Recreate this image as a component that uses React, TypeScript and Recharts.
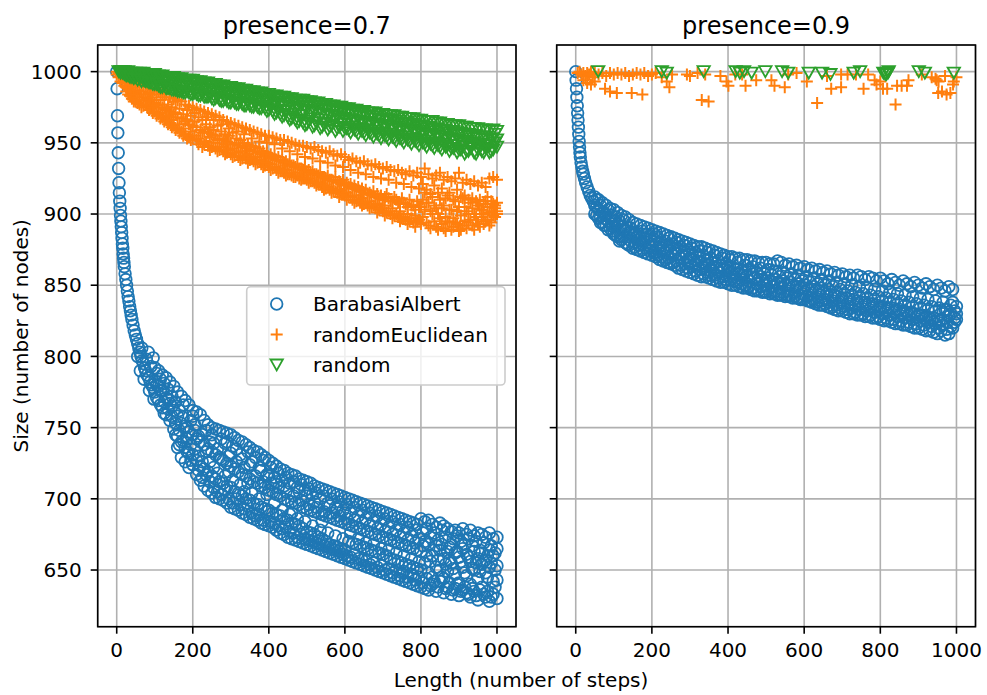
import React from 'react'
import { ScatterChart, Scatter, XAxis, YAxis, CartesianGrid } from 'recharts'

const BLUE = '#1f77b4'
const ORANGE = '#ff7f0e'
const GREEN = '#2ca02c'
const FONT = '"DejaVu Sans", sans-serif'

const xTicks = [0, 200, 400, 600, 800, 1000]
const yTicks = [650, 700, 750, 800, 850, 900, 950, 1000]
const panelTitles = ['presence=0.7', 'presence=0.9']
const seriesNames = ['BarabasiAlbert', 'randomEuclidean', 'random']

// presence=0.7, BarabasiAlbert: steep start, then a wide band
const baLowHead: [number, number][] = [
  [0, 1000], [1, 988], [2, 969], [3, 957], [4, 943], [5, 932], [6, 922], [7, 915], [8, 909], [9, 904],
  [10, 899], [11, 895], [12, 891], [13, 887], [14, 883], [15, 879], [16, 876], [17, 872], [18, 869], [19, 866],
  [20, 863], [22, 858], [24, 854], [26, 850], [28, 846], [30, 842], [32, 839], [34, 835], [36, 832], [38, 829],
  [40, 826], [43, 822], [46, 818], [49, 815], [52, 812], [55, 809], [58, 806], [61, 803], [64, 800], [67, 797],
  [70, 795], [73, 792], [76, 790], [80, 787], [84, 785], [88, 782], [92, 780], [96, 778],
  [55, 800], [62, 790], [66, 806], [72, 784], [78, 798], [83, 803], [86, 776], [90, 793], [96, 799], [98, 770]
]
const baLowBand: [number, number[]][] = [
  [100, [792, 783, 775]], [110, [790, 779, 769]], [120, [787, 776, 764]], [130, [785, 771, 759]],
  [140, [782, 767, 755]], [150, [779, 762, 749]], [160, [775, 758, 744, 736]], [170, [772, 753, 740, 729]],
  [180, [769, 751, 736, 726]], [190, [766, 747, 732, 722]], [200, [762, 745, 731, 724, 758]],
  [210, [761, 742, 727, 717]], [220, [759, 740, 723, 713]], [230, [755, 738, 721, 709]], [240, [752, 735, 719, 706]],
  [250, [750, 733, 716, 704, 745]], [260, [749, 731, 714, 701]], [270, [748, 729, 712, 700]], [280, [747, 727, 711, 699]],
  [290, [746, 725, 709, 697, 740]], [300, [745, 723, 708, 694, 732]], [310, [743, 721, 705, 693]],
  [320, [741, 719, 704, 692]], [330, [740, 717, 702, 690, 728]], [340, [738, 716, 700, 689]],
  [350, [736, 714, 699, 687, 724]], [360, [734, 712, 697, 686]], [370, [733, 711, 696, 685]],
  [380, [731, 709, 694, 683, 720]], [390, [729, 708, 693, 682]], [400, [727, 706, 692, 681, 716]],
  [410, [725, 705, 690, 680]], [420, [723, 703, 689, 678, 712]], [430, [721, 702, 688, 676]],
  [440, [720, 700, 686, 675, 709]], [450, [718, 699, 685, 673]], [460, [717, 698, 683, 672, 690]],
  [470, [716, 697, 682, 671]], [480, [714, 696, 681, 670, 705]], [490, [713, 694, 679, 669]],
  [500, [712, 693, 677, 668, 702]], [510, [711, 692, 676, 667]], [520, [709, 691, 675, 666, 698]],
  [530, [708, 690, 673, 665]], [540, [707, 689, 672, 664, 684]], [550, [706, 688, 670, 663]],
  [560, [705, 687, 668, 662, 695]], [570, [704, 686, 667, 661]], [580, [703, 685, 666, 660, 693]],
  [590, [702, 684, 665, 659]], [600, [701, 683, 664, 658, 690]], [610, [700, 682, 670, 657]],
  [620, [699, 681, 669, 656]], [630, [698, 680, 668, 655]], [640, [697, 679, 667, 654]],
  [650, [696, 678, 666, 653]], [660, [695, 677, 665, 652]], [670, [694, 676, 664, 651]],
  [680, [693, 675, 663, 650]], [690, [692, 674, 662, 649]], [700, [691, 673, 661, 648]],
  [710, [690, 672, 660, 647]], [720, [689, 671, 658, 646]], [730, [688, 670, 657, 645]],
  [740, [687, 669, 656, 644]], [750, [686, 668, 655, 648, 643]], [760, [685, 667, 654, 642]],
  [770, [684, 666, 653, 641]], [780, [683, 665, 652, 646, 640]], [790, [682, 664, 651, 639]],
  [800, [686, 663, 650, 638]], [810, [684, 670, 655, 637]], [820, [685, 668, 648, 636]],
  [830, [682, 660, 645, 640]], [840, [680, 667, 652, 635]], [850, [683, 664, 650, 642]],
  [860, [681, 658, 644, 634]], [870, [679, 663, 649, 638]], [880, [677, 668, 655, 633]],
  [890, [678, 662, 647, 637]], [900, [676, 659, 641, 632]], [910, [679, 665, 652, 636]],
  [920, [675, 661, 646, 634]], [930, [678, 656, 640, 631]], [940, [674, 663, 650, 635]],
  [950, [676, 658, 644, 629]], [960, [675, 662, 654, 638]], [970, [673, 657, 648, 631]],
  [980, [676, 664, 652, 628]], [990, [672, 660, 642, 633]], [1000, [673, 665, 653, 643, 630]]
]
const baLowFill: [number, number[]][] = [
  [105, [788, 771, 780]], [115, [776, 784, 766]], [125, [781, 768, 760]], [135, [763, 777, 770]],
  [145, [772, 758, 765]], [155, [753, 768, 745]], [165, [762, 748, 738]], [175, [741, 757, 766]],
  [185, [750, 733, 742]], [195, [738, 755, 727]], [205, [748, 735, 752]], [215, [730, 720, 744]],
  [225, [745, 726, 715]], [235, [717, 733, 748]], [245, [740, 712, 726]], [255, [722, 708, 739]],
  [265, [735, 718, 705]], [275, [703, 728, 742]], [285, [716, 739, 706]], [295, [730, 700, 719]],
  [305, [713, 737, 697]], [315, [726, 700, 735]], [325, [710, 696, 731]], [335, [722, 705, 693]],
  [345, [733, 695, 711]], [355, [704, 726, 690]], [365, [716, 688, 729]], [375, [700, 722, 689]],
  [385, [712, 727, 685]], [395, [691, 717, 703]], [405, [711, 684, 722]], [415, [697, 715, 683]],
  [425, [708, 681, 718]], [435, [692, 713, 679]], [445, [705, 680, 715]], [455, [689, 711, 677]],
  [465, [702, 676, 712]], [475, [686, 708, 673]], [485, [699, 675, 710]], [495, [684, 706, 672]],
  [505, [696, 707, 671]], [515, [681, 703, 670]], [525, [694, 669, 704]], [535, [678, 700, 668]],
  [545, [691, 702, 667]], [555, [676, 697, 666]], [565, [690, 665, 700]], [575, [674, 694, 664]],
  [585, [688, 698, 663]], [595, [672, 692, 661]], [605, [686, 696, 660]], [615, [676, 690, 659]],
  [625, [685, 694, 661]], [635, [672, 688, 658]], [645, [683, 692, 657]], [655, [669, 686, 656]],
  [665, [681, 690, 654]], [675, [668, 684, 655]], [685, [679, 688, 652]], [695, [665, 682, 653]],
  [705, [677, 686, 650]], [715, [664, 680, 651]], [725, [675, 684, 648]], [735, [662, 678, 650]],
  [745, [673, 682, 646]], [755, [660, 676, 649]], [765, [671, 680, 645]], [775, [658, 674, 647]],
  [785, [669, 678, 643]], [795, [656, 672, 645]], [805, [667, 676, 641]], [815, [660, 679, 644]],
  [825, [673, 656, 639]], [835, [664, 676, 642]], [845, [657, 671, 638]], [855, [668, 678, 645]],
  [865, [654, 673, 637]], [875, [666, 657, 641]], [885, [672, 651, 636]], [895, [663, 674, 640]],
  [905, [656, 670, 635]], [915, [668, 648, 638]], [925, [659, 672, 633]], [935, [667, 651, 637]],
  [945, [655, 670, 632]], [955, [664, 649, 636]], [965, [669, 656, 633]], [975, [660, 645, 635]],
  [985, [667, 655, 631]], [995, [662, 650, 638]]
]

// presence=0.7, randomEuclidean
const reLowBand: [number, number[]][] = [
  [0, [1000, 998]], [10, [997, 993]], [20, [995, 990]], [30, [994, 988, 984]], [40, [993, 986, 981]],
  [50, [992, 985, 979]], [60, [991, 984, 977]], [70, [990, 982, 976]], [80, [989, 981, 975]],
  [90, [988, 980, 974]], [100, [987, 978, 972]], [110, [986, 977, 970]], [120, [985, 975, 968]],
  [130, [984, 973, 966]], [140, [982, 972, 964]], [150, [981, 970, 962]], [160, [980, 968, 960]],
  [170, [979, 967, 958]], [180, [977, 965, 956]], [190, [976, 963, 954]], [200, [975, 962, 953]],
  [210, [974, 961, 952]], [220, [973, 959, 951]], [230, [972, 958, 949]], [240, [971, 957, 948]],
  [250, [970, 956, 947]], [260, [969, 955, 946]], [270, [968, 953, 945]], [280, [966, 952, 944]],
  [290, [965, 951, 943]], [300, [964, 950, 942]], [310, [963, 949, 941]], [320, [962, 948, 940]],
  [330, [961, 947, 939]], [340, [960, 946, 939]], [350, [959, 945, 938]], [360, [958, 944, 937]],
  [370, [957, 943, 936]], [380, [956, 942, 935]], [390, [955, 941, 934]], [400, [955, 940, 933]],
  [410, [954, 939, 932]], [420, [953, 938, 931]], [430, [952, 937, 930]], [440, [952, 936, 929]],
  [450, [951, 935, 928]], [460, [950, 934, 927]], [470, [949, 933, 926]], [480, [948, 932, 925]],
  [490, [948, 931, 925]], [500, [947, 930, 924]], [510, [946, 929, 923]], [520, [947, 928, 922]],
  [530, [945, 927, 921]], [540, [944, 926, 919]], [550, [943, 925, 918]], [560, [944, 924, 917]],
  [570, [942, 923, 916]], [580, [941, 922, 915]], [590, [942, 921, 914]], [600, [940, 920, 913]],
  [610, [938, 919, 912]], [620, [939, 918, 910]], [630, [937, 917, 909]], [640, [936, 916, 908]],
  [650, [937, 915, 907]], [660, [935, 914, 906]], [670, [934, 913, 905]], [680, [935, 912, 904]],
  [690, [933, 911, 903]], [700, [932, 910, 902]], [710, [933, 914, 901]], [720, [931, 909, 900]],
  [730, [930, 912, 899]], [740, [931, 908, 898]], [750, [929, 911, 897]], [760, [928, 907, 896]],
  [770, [930, 910, 895]], [780, [927, 906, 894]], [790, [929, 909, 895]], [800, [926, 905, 893]],
  [810, [932, 915, 903]], [820, [928, 908, 892]], [830, [925, 912, 900]], [840, [927, 904, 891]],
  [850, [929, 910, 897]], [860, [924, 906, 890]], [870, [926, 913, 895]], [880, [923, 903, 889]],
  [890, [925, 909, 894]], [900, [929, 905, 888]], [910, [922, 911, 892]], [920, [924, 902, 890]],
  [930, [921, 908, 896]], [940, [923, 900, 889]], [950, [920, 906, 893]], [960, [922, 903, 898]],
  [970, [919, 909, 895]], [980, [925, 901, 892]], [990, [926, 907, 899]], [1000, [924, 908, 902, 900]]
]
const reLowFill: [number, number[]][] = [
  [5, [996, 999]], [15, [992, 996]], [25, [989, 993, 986]], [35, [991, 983]], [45, [984, 989, 979]],
  [55, [987, 978, 982]], [65, [980, 986, 975]], [75, [984, 977]], [85, [979, 985, 973]], [95, [982, 975, 971]],
  [105, [976, 984, 969]], [115, [980, 971, 967]], [125, [974, 982, 965]], [135, [969, 977, 963]],
  [145, [975, 966, 961]], [155, [971, 979, 959]], [165, [963, 974, 957]], [175, [970, 960, 955]],
  [185, [966, 973, 953]], [195, [958, 969, 952]], [205, [965, 955, 971]], [215, [968, 953, 949]],
  [225, [957, 966, 947]], [235, [963, 951, 968]], [245, [954, 961, 945]], [255, [959, 950, 966]],
  [265, [952, 962, 944]], [275, [958, 947, 963]], [285, [949, 956, 942]], [295, [955, 945, 960]],
  [305, [946, 957, 940]], [315, [953, 943, 958]], [325, [944, 952, 938]], [335, [950, 941, 956]],
  [345, [942, 949, 936]], [355, [948, 939, 953]], [365, [940, 947, 935]], [375, [946, 938, 951]],
  [385, [937, 944, 933]], [395, [943, 936, 950]], [405, [935, 942, 931]], [415, [941, 933, 949]],
  [425, [932, 940, 929]], [435, [938, 930, 946]], [445, [931, 937, 927]], [455, [936, 928, 944]],
  [465, [929, 934, 926]], [475, [935, 927, 942]], [485, [927, 932, 924]], [495, [933, 925, 940]],
  [505, [925, 931, 922]], [515, [930, 923, 939]], [525, [922, 928, 920]], [535, [929, 921, 937]],
  [545, [920, 926, 917]], [555, [927, 919, 936]], [565, [918, 924, 915]], [575, [926, 916, 934]],
  [585, [917, 923, 912]], [595, [924, 914, 933]], [605, [915, 922, 910]], [615, [921, 912, 931]],
  [625, [913, 920, 908]], [635, [919, 910, 929]], [645, [911, 918, 906]], [655, [917, 908, 928]],
  [665, [909, 915, 904]], [675, [916, 906, 926]], [685, [907, 914, 901]], [695, [913, 904, 925]],
  [705, [906, 912, 899]], [715, [911, 902, 924]], [725, [904, 909, 897]], [735, [910, 900, 922]],
  [745, [902, 907, 895]], [755, [908, 898, 921]], [765, [900, 905, 893]], [775, [906, 897, 919]],
  [785, [899, 903, 891]], [795, [905, 896, 918]], [805, [898, 910, 921]], [815, [908, 894, 917]],
  [825, [902, 914, 890]], [835, [906, 895, 920]], [845, [900, 915, 889]], [855, [904, 893, 918]],
  [865, [898, 911, 888]], [875, [903, 894, 915]], [885, [897, 910, 891]], [895, [902, 893, 917]],
  [905, [899, 912, 889]], [915, [905, 895, 913]], [925, [900, 910, 894]], [935, [904, 892, 911]],
  [945, [898, 909, 896]], [955, [903, 891, 910]], [965, [900, 907, 893]], [975, [905, 896, 912]],
  [985, [902, 894, 909]], [995, [906, 898, 904]]
]

// presence=0.7, random
const rLowBand: [number, number[]][] = [
  [10, [1000, 999]], [20, [1000, 998]], [30, [1000, 998, 997]], [40, [999, 998, 996]], [50, [999, 997, 996]],
  [60, [999, 997, 995]], [70, [999, 996, 994]], [80, [998, 996, 993]], [90, [998, 995, 992]],
  [100, [998, 995, 991]], [110, [997, 994, 990]], [120, [997, 993, 989]], [130, [996, 993, 988]],
  [140, [996, 992, 988]], [150, [996, 991, 987]], [160, [995, 991, 986]], [170, [995, 990, 986]],
  [180, [994, 990, 985]], [190, [994, 989, 985]], [200, [994, 989, 984]], [210, [993, 988, 984]],
  [220, [993, 988, 983]], [230, [992, 987, 982]], [240, [992, 987, 982]], [250, [991, 986, 981]],
  [260, [991, 986, 981]], [270, [990, 985, 980]], [280, [990, 985, 979]], [290, [989, 984, 979]],
  [300, [989, 984, 978]], [310, [988, 983, 978]], [320, [988, 983, 977]], [330, [987, 982, 977]],
  [340, [987, 982, 976]], [350, [986, 981, 976]], [360, [986, 981, 975]], [370, [985, 980, 975]],
  [380, [985, 980, 974]], [390, [984, 979, 974]], [400, [984, 979, 973]], [410, [983, 978, 972]],
  [420, [983, 977, 971]], [430, [982, 977, 970]], [440, [982, 976, 969]], [450, [981, 976, 968]],
  [460, [981, 975, 967]], [470, [980, 974, 966]], [480, [980, 974, 965]], [490, [980, 973, 964]],
  [500, [979, 973, 963]], [510, [979, 972, 967]], [520, [978, 972, 962]], [530, [978, 971, 966]],
  [540, [977, 970, 961]], [550, [977, 970, 964]], [560, [976, 969, 961]], [570, [976, 969, 965]],
  [580, [975, 968, 960]], [590, [975, 967, 963]], [600, [974, 967, 960]], [610, [974, 966, 959]],
  [620, [973, 966, 961]], [630, [973, 965, 958]], [640, [972, 965, 960]], [650, [972, 964, 957]],
  [660, [971, 964, 959]], [670, [971, 963, 956]], [680, [971, 963, 958]], [690, [970, 962, 955]],
  [700, [970, 962, 957]], [710, [969, 961, 954]], [720, [969, 961, 956]], [730, [969, 960, 953]],
  [740, [968, 960, 955]], [750, [968, 959, 952]], [760, [967, 959, 954]], [770, [967, 958, 951]],
  [780, [967, 958, 953]], [790, [966, 957, 950]], [800, [966, 957, 952]], [810, [965, 956, 949]],
  [820, [965, 956, 951]], [830, [965, 955, 948]], [840, [964, 955, 950]], [850, [964, 954, 947]],
  [860, [963, 954, 949]], [870, [963, 953, 948]], [880, [962, 953, 946]], [890, [962, 952, 948]],
  [900, [962, 952, 945]], [910, [961, 951, 947]], [920, [961, 951, 944]], [930, [960, 950, 946]],
  [940, [960, 950, 943]], [950, [960, 949, 945]], [960, [959, 949, 944]], [970, [959, 948, 946]],
  [980, [958, 948, 943]], [990, [959, 950, 945]], [1000, [958, 952, 947]]
]
const rLowFill: [number, number[]][] = [
  [5, [1000]], [15, [1000, 999]], [25, [999, 997]], [35, [999, 996]], [45, [998, 995]], [55, [998, 994]],
  [65, [997, 993]], [75, [997, 993]], [85, [996, 992]], [95, [997, 991]], [105, [996, 991]], [115, [995, 989]],
  [125, [996, 990]], [135, [994, 988]], [145, [995, 987]], [155, [993, 987]], [165, [994, 986]], [175, [992, 985]],
  [185, [993, 986]], [195, [991, 984]], [205, [992, 985]], [215, [990, 983]], [225, [991, 984]], [235, [989, 982]],
  [245, [990, 983]], [255, [988, 980]], [265, [989, 982]], [275, [987, 979]], [285, [988, 981]], [295, [986, 978]],
  [305, [987, 980]], [315, [985, 977]], [325, [986, 979]], [335, [984, 976]], [345, [985, 978]], [355, [983, 975]],
  [365, [984, 977]], [375, [982, 974]], [385, [983, 976]], [395, [981, 972]], [405, [982, 975]], [415, [980, 970]],
  [425, [981, 973]], [435, [979, 968]], [445, [980, 972]], [455, [978, 966]], [465, [979, 970]], [475, [977, 964]],
  [485, [978, 969]], [495, [976, 962]], [505, [977, 965]], [515, [975, 961]], [525, [976, 964]], [535, [974, 960]],
  [545, [975, 963]], [555, [973, 959]], [565, [974, 962]], [575, [972, 958]], [585, [973, 961]], [595, [971, 958]],
  [605, [972, 960]], [615, [970, 957]], [625, [971, 959]], [635, [969, 956]], [645, [970, 958]], [655, [968, 955]],
  [665, [969, 957]], [675, [967, 954]], [685, [968, 956]], [695, [966, 953]], [705, [967, 955]], [715, [965, 952]],
  [725, [966, 954]], [735, [964, 951]], [745, [965, 953]], [755, [963, 950]], [765, [964, 952]], [775, [962, 949]],
  [785, [963, 951]], [795, [961, 948]], [805, [962, 950]], [815, [960, 947]], [825, [961, 949]], [835, [959, 946]],
  [845, [960, 948]], [855, [958, 945]], [865, [959, 947]], [875, [957, 944]], [885, [958, 946]], [895, [956, 943]],
  [905, [957, 945]], [915, [955, 942]], [925, [956, 944]], [935, [954, 948]], [945, [955, 942]], [955, [953, 947]],
  [965, [954, 943]], [975, [952, 948]], [985, [953, 944]], [995, [956, 950]]
]

// presence=0.9, BarabasiAlbert
const baHighHead: [number, number][] = [
  [0, 1000], [1, 994], [2, 988], [3, 982], [4, 976], [5, 971], [6, 966], [7, 961], [8, 956], [9, 951],
  [10, 947], [11, 943], [12, 940], [14, 936], [16, 933], [18, 930], [20, 928], [23, 925], [26, 922],
  [30, 919], [34, 916], [38, 913], [42, 911], [46, 909], [98, 891], [117, 884]
]
const baHighBand: [number, number[]][] = [
  [50, [912, 906, 900]], [60, [910, 903, 897]], [70, [908, 901, 894]], [80, [906, 899, 892]],
  [90, [904, 897, 890]], [100, [903, 895, 886]], [110, [901, 893, 884]], [120, [899, 891, 882]],
  [130, [898, 889, 880]], [140, [896, 887, 878]], [150, [894, 885, 876]], [160, [893, 884, 875]],
  [170, [892, 883, 874]], [180, [891, 881, 873]], [190, [890, 880, 872]], [200, [889, 879, 871]],
  [210, [888, 878, 870]], [220, [887, 877, 868]], [230, [886, 876, 867]], [240, [885, 875, 866]],
  [250, [884, 874, 865]], [260, [883, 873, 864]], [270, [882, 872, 862]], [280, [881, 871, 861]],
  [290, [880, 870, 860]], [300, [879, 869, 859]], [310, [878, 868, 858]], [320, [877, 867, 857]],
  [330, [877, 866, 856]], [340, [876, 865, 856]], [350, [875, 864, 855]], [360, [874, 863, 854]],
  [370, [873, 862, 853]], [380, [872, 862, 852]], [390, [871, 861, 852]], [400, [870, 860, 851]],
  [410, [870, 859, 850]], [420, [869, 858, 850]], [430, [869, 858, 849]], [440, [868, 857, 848]],
  [450, [868, 856, 848]], [460, [867, 856, 847]], [470, [867, 855, 846]], [480, [866, 854, 846]],
  [490, [866, 854, 845]], [500, [866, 853, 845]], [510, [865, 853, 844]], [520, [865, 852, 844]],
  [530, [867, 852, 843]], [540, [866, 851, 843]], [550, [864, 850, 842]], [560, [865, 850, 842]],
  [570, [863, 849, 841]], [580, [864, 849, 841]], [590, [862, 848, 840]], [600, [863, 848, 840]],
  [610, [861, 847, 839]], [620, [862, 847, 838]], [630, [860, 846, 837]], [640, [861, 846, 836]],
  [650, [859, 845, 836]], [660, [860, 844, 835]], [670, [858, 843, 834]], [680, [859, 843, 833]],
  [690, [857, 842, 832]], [700, [858, 841, 832]], [710, [856, 841, 831]], [720, [857, 840, 830]],
  [730, [855, 840, 830]], [740, [857, 839, 829]], [750, [856, 838, 829]], [760, [854, 838, 828]],
  [770, [856, 837, 828]], [780, [855, 837, 827]], [790, [853, 836, 827]], [800, [855, 835, 826]],
  [810, [853, 835, 825]], [820, [851, 834, 825]], [830, [854, 834, 824]], [840, [852, 833, 823]],
  [850, [850, 833, 823]], [860, [853, 832, 822]], [870, [851, 831, 822]], [880, [849, 831, 821]],
  [890, [852, 830, 820]], [900, [850, 829, 820]], [910, [848, 829, 819]], [920, [851, 828, 818]],
  [930, [849, 827, 818]], [940, [847, 827, 817]], [950, [850, 826, 816]], [960, [848, 825, 818]],
  [970, [846, 833, 815]], [980, [849, 828, 816]], [990, [847, 838, 820]], [1000, [835, 830, 826]]
]
const baHighFill: [number, number[]][] = [
  [55, [905, 899, 910]], [65, [898, 906, 894]], [75, [901, 892, 897]], [85, [895, 903, 889]],
  [95, [899, 888, 893]], [105, [891, 898, 885]], [115, [895, 887, 881]], [125, [889, 896, 884]],
  [135, [884, 891, 879]], [145, [890, 881, 886]], [155, [880, 887, 877]], [165, [886, 878, 882]],
  [175, [879, 888, 875]], [185, [883, 876, 886]], [195, [877, 885, 874]], [205, [882, 873, 886]],
  [215, [876, 884, 871]], [225, [880, 870, 874]], [235, [873, 881, 868]], [245, [878, 869, 883]],
  [255, [871, 879, 866]], [265, [876, 867, 880]], [275, [869, 877, 864]], [285, [874, 865, 878]],
  [295, [866, 875, 862]], [305, [872, 863, 876]], [315, [864, 873, 860]], [325, [870, 861, 874]],
  [335, [862, 871, 858]], [345, [868, 859, 873]], [355, [860, 869, 857]], [365, [866, 857, 871]],
  [375, [859, 867, 855]], [385, [864, 856, 869]], [395, [857, 865, 854]], [405, [863, 854, 868]],
  [415, [856, 862, 853]], [425, [861, 852, 866]], [435, [854, 860, 851]], [445, [859, 850, 864]],
  [455, [853, 861, 849]], [465, [858, 848, 863]], [475, [851, 859, 847]], [485, [856, 849, 862]],
  [495, [850, 858, 846]], [505, [855, 847, 861]], [515, [849, 857, 845]], [525, [854, 846, 860]],
  [535, [848, 856, 844]], [545, [853, 845, 859]], [555, [846, 855, 843]], [565, [852, 843, 858]],
  [575, [845, 854, 842]], [585, [851, 841, 857]], [595, [844, 853, 840]], [605, [850, 842, 856]],
  [615, [843, 852, 839]], [625, [849, 840, 855]], [635, [842, 851, 838]], [645, [848, 839, 854]],
  [655, [840, 850, 837]], [665, [847, 838, 853]], [675, [839, 849, 835]], [685, [845, 836, 852]],
  [695, [838, 847, 834]], [705, [844, 835, 851]], [715, [837, 846, 833]], [725, [843, 834, 850]],
  [735, [836, 845, 831]], [745, [842, 833, 849]], [755, [835, 844, 830]], [765, [841, 832, 848]],
  [775, [834, 843, 829]], [785, [840, 831, 847]], [795, [833, 842, 828]], [805, [839, 830, 846]],
  [815, [832, 841, 827]], [825, [838, 829, 845]], [835, [831, 840, 826]], [845, [837, 828, 844]],
  [855, [830, 839, 825]], [865, [836, 827, 843]], [875, [829, 838, 824]], [885, [835, 826, 842]],
  [895, [828, 837, 823]], [905, [834, 825, 841]], [915, [827, 836, 822]], [925, [833, 824, 840]],
  [935, [826, 835, 821]], [945, [832, 823, 839]], [955, [825, 834, 820]], [965, [831, 822, 838]],
  [975, [824, 833, 819]], [985, [830, 821, 836]], [995, [827, 832, 824]]
]

// presence=0.9, randomEuclidean
const reHigh: [number, number][] = [
  [5, 999], [10, 1000], [15, 998], [20, 999], [25, 997], [30, 999], [35, 998], [40, 1000], [45, 996],
  [50, 999], [60, 998], [70, 999], [80, 997], [90, 999], [100, 998], [110, 999], [120, 998], [130, 999],
  [140, 997], [150, 998], [160, 999], [170, 998], [180, 999], [190, 997], [200, 998], [210, 999],
  [20, 994], [30, 992], [40, 991], [50, 993], [77, 988], [90, 986], [108, 985], [147, 985], [175, 984],
  [226, 996], [239, 993], [246, 989], [253, 998], [292, 998], [300, 997], [320, 999], [331, 980],
  [349, 979], [340, 998], [380, 997], [396, 993], [401, 990], [419, 998], [437, 998], [446, 990],
  [474, 994], [514, 994], [522, 990], [549, 989], [558, 998], [580, 999], [607, 993], [634, 978],
  [660, 997], [671, 988], [697, 989], [697, 998], [714, 998], [736, 998], [756, 988], [768, 998],
  [785, 994], [790, 991], [800, 993], [807, 988], [818, 988], [840, 977], [844, 990], [856, 990],
  [870, 990], [874, 994], [909, 998], [935, 996], [945, 995], [948, 994], [952, 985], [953, 993],
  [962, 986], [970, 997], [974, 984], [984, 985], [991, 991], [993, 993], [1000, 996]
]

// presence=0.9, random
const rHigh: [number, number][] = [
  [59, 1000], [226, 1000], [239, 999], [336, 1000], [420, 1000], [431, 999], [442, 1000], [462, 999],
  [498, 1000], [542, 1000], [558, 999], [612, 999], [647, 999], [669, 998], [730, 999], [747, 1000],
  [808, 999], [813, 998], [816, 998], [820, 999], [822, 1000], [901, 1000], [917, 999], [993, 999]
]

type Pt = { x: number; y: number }
const pairs = (list: [number, number][]): Pt[] => list.map(([x, y]) => ({ x, y }))
const band = (list: [number, number[]][]): Pt[] => list.flatMap(([x, ys]) => ys.map((y) => ({ x, y })))

const baLow = [...pairs(baLowHead), ...band(baLowBand), ...band(baLowFill)]
const reLow = [...band(reLowBand), ...band(reLowFill)]
const rLow = [...band(rLowBand), ...band(rLowFill)]
const baHigh = [...pairs(baHighHead), ...band(baHighBand), ...band(baHighFill)]

const Ring = (p: any) => (
  <circle cx={p.cx} cy={p.cy} r={5.8} fill="none" stroke={BLUE} strokeWidth={1.8} />
)
const Plus = (p: any) => (
  <path d={`M${p.cx - 6},${p.cy}H${p.cx + 6}M${p.cx},${p.cy - 6}V${p.cy + 6}`} stroke={ORANGE} strokeWidth={2} fill="none" />
)
const TriDown = (p: any) => (
  <path d={`M${p.cx - 6.2},${p.cy - 5.5}L${p.cx + 6.2},${p.cy - 5.5}L${p.cx},${p.cy + 5.5}Z`} fill="none" stroke={GREEN} strokeWidth={1.8} strokeLinejoin="miter" />
)

const tickStyle = { fill: '#000', fontSize: 20, fontFamily: FONT }
const tickLineStyle = { stroke: '#000', strokeWidth: 1.6 }

interface PanelProps {
  left: number
  width: number
  yWidth: number
  marginLeft: number
  marginRight: number
  labels: boolean
  ba: Pt[]
  re: Pt[]
  rnd: Pt[]
}

const Panel = ({ left, width, yWidth, marginLeft, marginRight, labels, ba, re, rnd }: PanelProps) => (
  <div style={{ position: 'absolute', left, top: 0 }}>
    <ScatterChart width={width} height={695} margin={{ top: 45, right: marginRight, bottom: 38.3, left: marginLeft }}>
      <CartesianGrid stroke="#b0b0b0" strokeWidth={1.6} />
      <XAxis
        type="number"
        dataKey="x"
        domain={[-50, 1050]}
        ticks={xTicks}
        allowDataOverflow
        height={30}
        tickSize={7}
        tickMargin={9}
        axisLine={false}
        tickLine={tickLineStyle}
        tick={tickStyle}
      />
      <YAxis
        type="number"
        dataKey="y"
        domain={[610.2, 1018.7]}
        ticks={yTicks}
        allowDataOverflow
        width={yWidth}
        tickSize={7}
        tickMargin={9}
        axisLine={false}
        tickLine={tickLineStyle}
        tick={tickStyle}
        tickFormatter={(v: number) => (labels ? String(v) : '')}
      />
      <Scatter data={ba} shape={Ring} isAnimationActive={false} />
      <Scatter data={re} shape={Plus} isAnimationActive={false} />
      <Scatter data={rnd} shape={TriDown} isAnimationActive={false} />
    </ScatterChart>
  </div>
)

const legendRows = [
  { name: seriesNames[0], y: 304 },
  { name: seriesNames[1], y: 334.5 },
  { name: seriesNames[2], y: 365 }
]

export default function App() {
  return (
    <div style={{ position: 'absolute', left: 0, top: 0, width: 987, height: 695, background: '#fff', fontFamily: FONT }}>
      <Panel left={0} width={540} yWidth={60} marginLeft={37.7} marginRight={24} labels ba={baLow} re={reLow} rnd={rLow} />
      <Panel left={520} width={467} yWidth={30} marginLeft={6.7} marginRight={11.5} labels={false} ba={baHigh} re={pairs(reHigh)} rnd={pairs(rHigh)} />
      <svg width={987} height={695} style={{ position: 'absolute', left: 0, top: 0, pointerEvents: 'none' }}>
        <rect x={97.7} y={45} width={418.3} height={581.7} fill="none" stroke="#000" strokeWidth={1.6} />
        <rect x={556.7} y={45} width={418.8} height={581.7} fill="none" stroke="#000" strokeWidth={1.6} />
        <text x={306.8} y={33.5} textAnchor="middle" fontSize={24} fontFamily={FONT} fill="#000">{panelTitles[0]}</text>
        <text x={766.1} y={33.5} textAnchor="middle" fontSize={24} fontFamily={FONT} fill="#000">{panelTitles[1]}</text>
        <text x={521} y={687} textAnchor="middle" fontSize={20} fontFamily={FONT} fill="#000">Length (number of steps)</text>
        <text x={28.3} y={335.8} textAnchor="middle" fontSize={20} fontFamily={FONT} fill="#000" transform="rotate(-90 28.3 335.8)">
          Size (number of nodes)
        </text>
        <rect x={246.7} y={286.7} width={258.3} height={98.3} rx={4} fill="#fff" fillOpacity={0.8} stroke="#cccccc" strokeWidth={1.6} />
        {legendRows.map((row, i) => (
          <g key={row.name}>
            {i === 0 && <Ring cx={276.7} cy={row.y} />}
            {i === 1 && <Plus cx={276.7} cy={row.y} />}
            {i === 2 && <TriDown cx={276.7} cy={row.y} />}
            <text x={313} y={row.y + 7} fontSize={20} fontFamily={FONT} fill="#000">{row.name}</text>
          </g>
        ))}
      </svg>
    </div>
  )
}
